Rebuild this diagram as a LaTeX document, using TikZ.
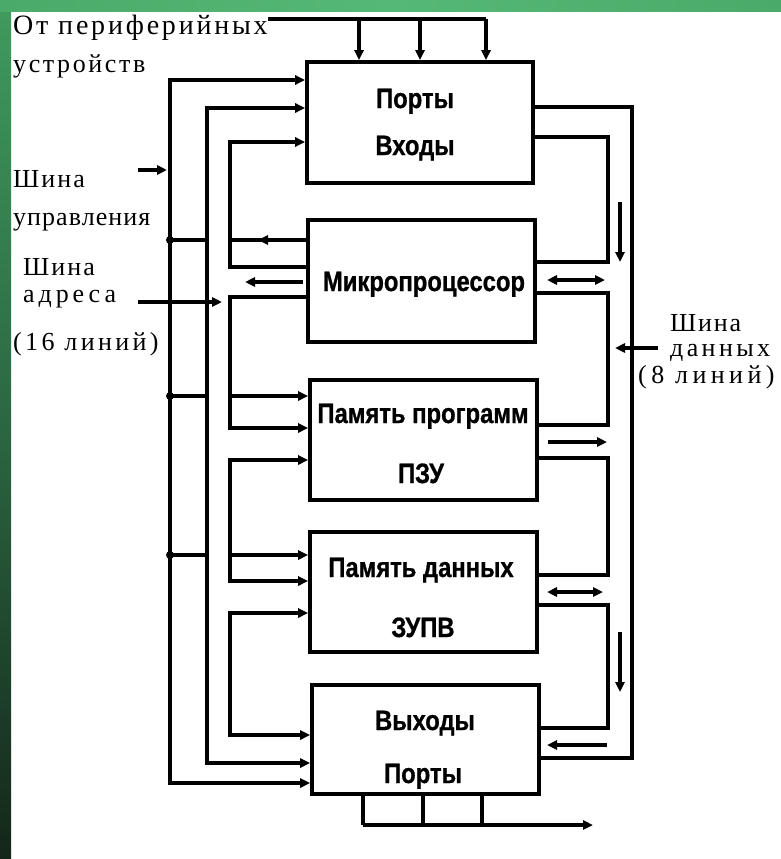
\documentclass[tikz,border=0pt]{standalone}
\usepackage{fontspec}
\usetikzlibrary{arrows.meta}
\newfontfamily\labfont{Liberation Serif}
\newfontfamily\blkfont[FakeStretch=0.85,BoldFeatures={FakeBold=0.8}]{Liberation Sans}
\definecolor{bandlight}{HTML}{56B876}
\definecolor{bandmid}{HTML}{4AAA69}
\definecolor{striptop}{HTML}{3F9C5E}
\definecolor{stripmid}{HTML}{2B6642}
\definecolor{stripbot}{HTML}{142619}
\tikzset{
  blk/.style={draw, line width=3.6pt, inner sep=0pt},
  conn/.style={line width=3.2pt},
  tip/.tip={Triangle[length=10pt,width=9pt]},
  lab/.style={font=\labfont\fontsize{26}{28}\selectfont, inner sep=0pt, anchor=base west},
  btxt/.style={font=\blkfont\bfseries\fontsize{28}{30}\selectfont, inner sep=0pt, anchor=base},
  dot/.style={circle, fill, inner sep=0pt, minimum size=8pt}
}
\newcommand{\lsp}[1]{\addfontfeature{LetterSpace=#1}}
\begin{document}
\begin{tikzpicture}[x=1pt, y=-1pt]
% page and green frame
\useasboundingbox (0,0) rectangle (781,859);
\fill[white] (0,0) rectangle (781,859);
\shade[top color=striptop, bottom color=stripbot, middle color=stripmid] (0,0) rectangle (11,859);
\shade[left color=bandmid, right color=bandmid, middle color=bandlight] (0,0) rectangle (781,12);

% blocks
\node[blk, minimum width=226pt, minimum height=121pt] (b1) at (420,122.5) {};
\node[blk, minimum width=227pt, minimum height=122pt] (b2) at (421.5,281) {};
\node[blk, minimum width=227pt, minimum height=120pt] (b3) at (423.5,440) {};
\node[blk, minimum width=227pt, minimum height=120pt] (b4) at (423.5,592) {};
\node[blk, minimum width=227pt, minimum height=109pt] (b5) at (425.5,739.5) {};

\node[btxt] (b1a) at (415,108) {Порты};
\node[btxt] (b1b) at (415,155) {Входы};
\node[btxt] (b2a) at (424,291) {Микропроцессор};
\node[btxt] (b3a) at (423,423) {Память программ};
\node[btxt] (b3b) at (421,483) {ПЗУ};
\node[btxt] (b4a) at (421,577) {Память данных};
\node[btxt] (b4b) at (423,637) {ЗУПВ};
\node[btxt] (b5a) at (425,730) {Выходы};
\node[btxt] (b5b) at (423,783) {Порты};

% side labels
\node[lab, font=\labfont\fontsize{28}{30}\selectfont\lsp{10}] (per) at (13,35) {От периферийных};
\node[lab] (per2) at (13,72) {\lsp{10}устройств};
\node[lab] (cb1) at (13,187) {\lsp{8}Шина};
\node[lab] (cb2) at (13,225) {\lsp{4}управления};
\node[lab] (ab1) at (23,275) {\lsp{8}Шина};
\node[lab] (ab2) at (23,302) {\lsp{15}адреса};
\node[lab] (ab3) at (13,350) {\lsp{13}(16 линий)};
\node[lab] (db1) at (670,331) {\lsp{7}Шина};
\node[lab] (db2) at (670,356) {\lsp{13}данных};
\node[lab] (db3) at (638,383) {\lsp{17}(8 линий)};

% free ends of the bus entry arrows
\coordinate (cbin) at (167,170);
\coordinate (cbout) at (138,170);
\coordinate (abin) at (222,302);
\coordinate (about) at (138,302);
\coordinate (dbin) at (615,348);
\coordinate (dbout) at (658,348);

% peripheral inputs
\draw[conn] (per.east|-0,19) -- (486,19);
\foreach \px in {359,420,486}
  \draw[conn,-{tip}] (\px,19) -- (b1.north-|\px,0);

% outputs to peripherals
\foreach \px in {363,423,482}
  \draw[conn] (b5.south-|\px,0) -- (\px,825);
\coordinate (outend) at (593,825);
\draw[conn,-{tip}] (363,825) -- (outend);

% control bus
\draw[conn,-{tip}] (cbout) -- (cbin);
\draw[conn,{tip}-{tip}] (b1.west|-0,80) -- (170,80) -- (170,783) -- (b5.west|-0,783);
\foreach \py in {240,396,555} {
  \node[dot] at (170,\py) {};
  \draw[conn] (170,\py) -- (207,\py);
}
\draw[conn] (b2.west|-0,240) -- (230,240);
\draw[conn,-{tip}] (b2.west|-0,240) -- (258,240);
\draw[conn,-{tip}] (230,396) -- (b3.west|-0,396);
\draw[conn,-{tip}] (230,555) -- (b4.west|-0,555);

% address bus
\draw[conn,-{tip}] (about) -- (abin);
\draw[conn,{tip}-{tip}] (b1.west|-0,108) -- (207,108) -- (207,763) -- (b5.west|-0,763);
\draw[conn,{tip}-] (b1.west|-0,142) -- (230,142) -- (230,267) -- (b2.west|-0,267);
\draw[conn,-{tip}] (b2.west|-0,297) -- (230,297) -- (230,428) -- (b3.west|-0,428);
\draw[conn,{tip}-{tip}] (b3.west|-0,460) -- (230,460) -- (230,581) -- (b4.west|-0,581);
\draw[conn,{tip}-{tip}] (b4.west|-0,613) -- (230,613) -- (230,735) -- (b5.west|-0,735);
\coordinate (aa1) at (303,282);
\coordinate (aa2) at (245,282);
\draw[conn,-{tip}] (aa1) -- (aa2);

% data bus
\draw[conn,-{tip}] (dbout) -- (dbin);
\draw[conn] (b1.east|-0,107) -- (632,107) -- (632,758) -- (b5.east|-0,758);
\draw[conn] (b1.east|-0,137) -- (608,137) -- (608,262) -- (b2.east|-0,262);
\draw[conn] (b2.east|-0,293) -- (608,293) -- (608,425) -- (b3.east|-0,425);
\draw[conn] (b3.east|-0,458) -- (608,458) -- (608,575) -- (b4.east|-0,575);
\draw[conn] (b4.east|-0,605) -- (608,605) -- (608,728) -- (b5.east|-0,728);
\coordinate (d1a) at (620,202);  \coordinate (d1b) at (620,262);
\coordinate (d2a) at (547,280);  \coordinate (d2b) at (605,280);
\coordinate (d3a) at (548,442);  \coordinate (d3b) at (607,442);
\coordinate (d4a) at (547,592);  \coordinate (d4b) at (603,592);
\coordinate (d5a) at (620,632);  \coordinate (d5b) at (620,692);
\coordinate (d6a) at (607,745);  \coordinate (d6b) at (547,745);
\draw[conn,-{tip}] (d1a) -- (d1b);
\draw[conn,{tip}-{tip}] (d2a) -- (d2b);
\draw[conn,-{tip}] (d3a) -- (d3b);
\draw[conn,{tip}-{tip}] (d4a) -- (d4b);
\draw[conn,-{tip}] (d5a) -- (d5b);
\draw[conn,-{tip}] (d6a) -- (d6b);
\end{tikzpicture}
\end{document}
